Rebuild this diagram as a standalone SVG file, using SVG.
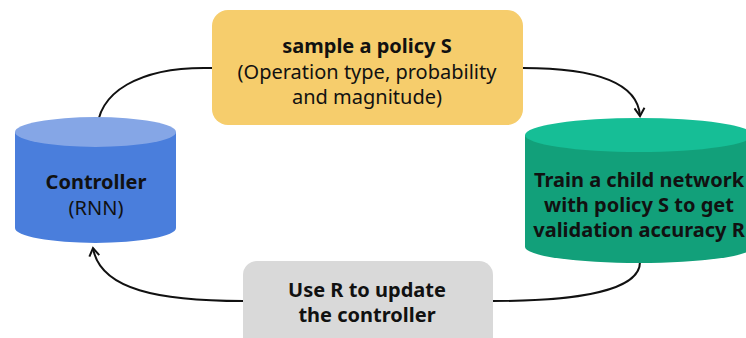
<svg xmlns="http://www.w3.org/2000/svg" width="746" height="338" viewBox="0 0 746 338">
  <style>
    .t { font-family: "Noto Sans", "Open Sans", "Liberation Sans", sans-serif; font-size: 20px; fill: #111; text-anchor: middle; }
    .b { font-weight: bold; }
    .edge { fill: none; stroke: #111; stroke-width: 2; }
  </style>
  <defs>
    <marker id="chev" viewBox="0 0 12 12" refX="10" refY="6" markerWidth="12" markerHeight="12" markerUnits="userSpaceOnUse" orient="auto">
      <path d="M2,1 L10,6 L2,11" fill="none" stroke="#111" stroke-width="2"/>
    </marker>
  </defs>
  <rect width="746" height="338" fill="#fff"/>

  <g id="connectors">
    <path class="edge" d="M212,68 C140,66 96,92 97,134"/>
    <path class="edge" d="M523,68 C600,68 638,85 640,116" marker-end="url(#chev)"/>
    <path class="edge" d="M640,262 C640,290 580,301 493,301"/>
    <path class="edge" d="M243,301 C160,301 100,290 93,248" marker-end="url(#chev)"/>
  </g>

  <g id="controller">
    <path d="M15,132 L15,228 A80.5,15 0 0 0 176,228 L176,132 Z" fill="#4A7EDC"/>
    <ellipse cx="95.5" cy="132" rx="80.5" ry="15" fill="#85A6E6"/>
    <text class="t b" x="96" y="189">Controller</text>
    <text class="t" x="96" y="215">(RNN)</text>
  </g>

  <g id="policy">
    <rect x="212" y="10" width="311" height="115" rx="16" fill="#F6CD6C"/>
    <text class="t b" x="367" y="53">sample a policy S</text>
    <text class="t" x="367" y="79">(Operation type, probability</text>
    <text class="t" x="367" y="104">and magnitude)</text>
  </g>

  <g id="child">
    <path d="M525,135 L525,247 A114,16 0 0 0 753,247 L753,135 Z" fill="#12A07A"/>
    <ellipse cx="639" cy="135" rx="114" ry="17" fill="#16BE96"/>
    <text class="t b" x="639" y="187">Train a child network</text>
    <text class="t b" x="639" y="212">with policy S to get</text>
    <text class="t b" x="639" y="237">validation accuracy R</text>
  </g>

  <g id="update">
    <rect x="243" y="261" width="250" height="95" rx="14" fill="#D9D9D9"/>
    <text class="t b" x="367" y="297">Use R to update</text>
    <text class="t b" x="367" y="322">the controller</text>
  </g>
</svg>
